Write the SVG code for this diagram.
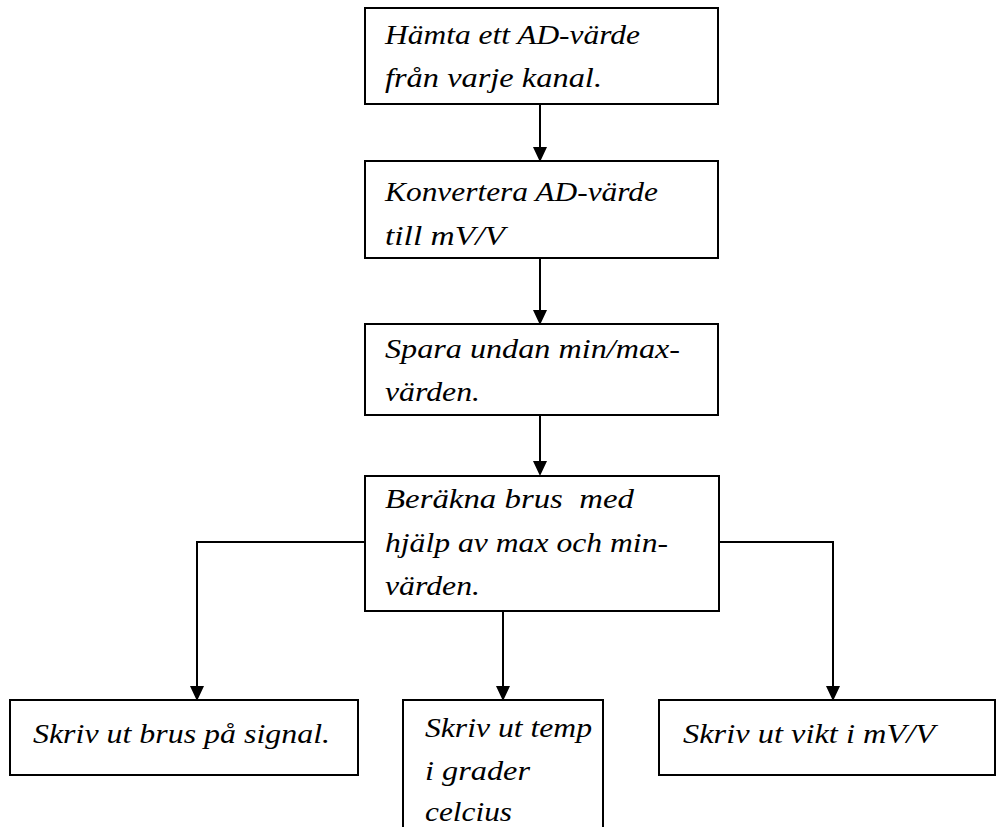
<svg xmlns="http://www.w3.org/2000/svg" width="1005" height="827" viewBox="0 0 1005 827">
  <style>
    .box { fill: #ffffff; stroke: #000000; stroke-width: 2; }
    .lbl { font-family: "Liberation Serif", "Times New Roman", serif; font-style: italic; font-size: 27px; fill: #000000; }
    .wire { fill: none; stroke: #000000; stroke-width: 2; }
    .head { fill: #000000; }
  </style>
  <rect width="1005" height="827" fill="#ffffff"/>

  <g id="connectors">
    <line class="wire" x1="540" y1="104" x2="540" y2="148"/>
    <line class="wire" x1="540" y1="258" x2="540" y2="311"/>
    <line class="wire" x1="540" y1="415" x2="540" y2="462"/>
    <polyline class="wire" points="365,542 197,542 197,687"/>
    <line class="wire" x1="503" y1="611" x2="503" y2="687"/>
    <polyline class="wire" points="719,542 833,542 833,687"/>
    <polygon class="head" points="533,147 547,147 540,162"/>
    <polygon class="head" points="533,310 547,310 540,325"/>
    <polygon class="head" points="533,461 547,461 540,476"/>
    <polygon class="head" points="190,686 204,686 197,701"/>
    <polygon class="head" points="496,686 510,686 503,701"/>
    <polygon class="head" points="826,686 840,686 833,701"/>
  </g>

  <g id="fetch">
    <rect class="box" x="365" y="8" width="353" height="96"/>
    <text class="lbl" x="385" y="44" textLength="255" lengthAdjust="spacingAndGlyphs">Hämta ett AD-värde</text>
    <text class="lbl" x="385" y="87" textLength="217" lengthAdjust="spacingAndGlyphs">från varje kanal.</text>
  </g>

  <g id="convert">
    <rect class="box" x="365" y="161" width="353" height="97"/>
    <text class="lbl" x="385" y="201" textLength="273" lengthAdjust="spacingAndGlyphs">Konvertera AD-värde</text>
    <text class="lbl" x="385" y="245" textLength="120" lengthAdjust="spacingAndGlyphs">till mV/V</text>
  </g>

  <g id="store">
    <rect class="box" x="365" y="324" width="353" height="91"/>
    <text class="lbl" x="385" y="358" textLength="295" lengthAdjust="spacingAndGlyphs">Spara undan min/max-</text>
    <text class="lbl" x="385" y="401" textLength="95" lengthAdjust="spacingAndGlyphs">värden.</text>
  </g>

  <g id="noise">
    <rect class="box" x="365" y="476" width="354" height="135"/>
    <text class="lbl" x="385" y="508" textLength="249" lengthAdjust="spacingAndGlyphs" xml:space="preserve">Beräkna brus  med</text>
    <text class="lbl" x="385" y="552" textLength="283" lengthAdjust="spacingAndGlyphs">hjälp av max och min-</text>
    <text class="lbl" x="385" y="595" textLength="95" lengthAdjust="spacingAndGlyphs">värden.</text>
  </g>

  <g id="print-noise">
    <rect class="box" x="10" y="700" width="348" height="75"/>
    <text class="lbl" x="33" y="743" textLength="297" lengthAdjust="spacingAndGlyphs">Skriv ut brus på signal.</text>
  </g>

  <g id="print-temp">
    <rect class="box" x="403" y="700" width="200" height="140"/>
    <text class="lbl" x="425" y="737" textLength="167" lengthAdjust="spacingAndGlyphs">Skriv ut temp</text>
    <text class="lbl" x="425" y="780" textLength="105" lengthAdjust="spacingAndGlyphs">i grader</text>
    <text class="lbl" x="425" y="821" textLength="87" lengthAdjust="spacingAndGlyphs">celcius</text>
  </g>

  <g id="print-weight">
    <rect class="box" x="659" y="700" width="336" height="75"/>
    <text class="lbl" x="683" y="743" textLength="252" lengthAdjust="spacingAndGlyphs">Skriv ut vikt i mV/V</text>
  </g>
</svg>
